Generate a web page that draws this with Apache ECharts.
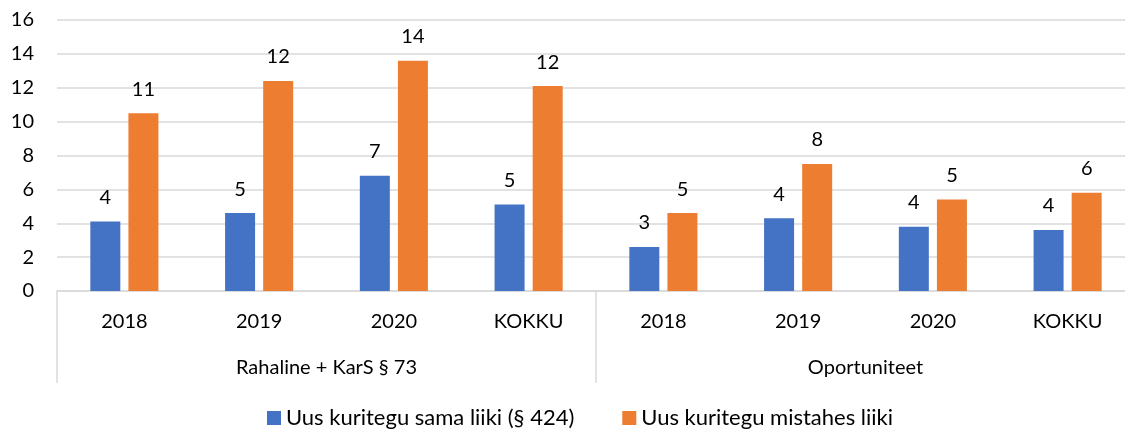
<!DOCTYPE html>
<html>
<head>
<meta charset="utf-8">
<script src="https://cdn.jsdelivr.net/npm/echarts@6/dist/echarts.min.js"></script>
<style>
  html, body { margin: 0; padding: 0; background: #fff; overflow: hidden; }
  #chart { width: 1125px; height: 430px; }
</style>
</head>
<body>
<div id="chart"></div>
<script>
// andmed
const years = ['2018', '2019', '2020', 'KOKKU', '2018', '2019', '2020', 'KOKKU'];
const groups = ['Rahaline + KarS § 73', 'Oportuniteet'];
const samaLiiki = [4.1, 4.6, 6.8, 5.1, 2.6, 4.3, 3.8, 3.6];
const mistahesLiiki = [10.5, 12.4, 13.6, 12.1, 4.6, 7.5, 5.4, 5.8];
const yTicks = [0, 2, 4, 6, 8, 10, 12, 14, 16];

const font = 'Lato, "Open Sans", sans-serif';
const chart = echarts.init(document.getElementById('chart'));

const labelStyle = {
  show: true,
  position: 'top',
  distance: 14,
  fontSize: 20,
  fontFamily: font,
  color: '#000',
  formatter: p => Math.round(p.value)
};

chart.setOption({
  animation: false,
  // plot runs a bit past the right edge, like the cropped original
  grid: { left: 57, width: 1078, top: 20, bottom: 139, containLabel: false, outerBoundsMode: 'none' },
  legend: {
    top: 402,
    left: 262,
    itemWidth: 14,
    itemHeight: 14,
    itemGap: 48,
    icon: 'rect',
    textStyle: { fontSize: 22, fontFamily: font, color: '#000' },
    data: ['Uus kuritegu sama liiki (§ 424)', 'Uus kuritegu mistahes liiki']
  },
  xAxis: [
    {
      type: 'category',
      data: years,
      position: 'bottom',
      axisLine: { lineStyle: { color: '#d9d9d9', width: 1.5 } },
      axisTick: { show: false },
      axisLabel: { fontSize: 20, fontFamily: font, color: '#000', margin: 21, interval: 0 }
    },
    {
      type: 'category',
      data: groups,
      position: 'bottom',
      axisLine: { show: false },
      axisTick: { show: true, length: 92, interval: 0, lineStyle: { color: '#d9d9d9', width: 1.5 } },
      axisLabel: { fontSize: 20, fontFamily: font, color: '#000', margin: 67, interval: 0 }
    }
  ],
  yAxis: {
    type: 'value',
    min: yTicks[0],
    max: yTicks[yTicks.length - 1],
    interval: 2,
    axisLine: { show: false },
    axisTick: { show: false },
    splitLine: { lineStyle: { color: '#d9d9d9', width: 1.5 } },
    axisLabel: { fontSize: 20, fontFamily: font, color: '#000', margin: 23 }
  },
  series: [
    {
      name: 'Uus kuritegu sama liiki (§ 424)',
      type: 'bar',
      xAxisIndex: 0,
      barWidth: 30,
      barGap: '27%',
      itemStyle: { color: '#4472C4' },
      label: labelStyle,
      data: samaLiiki
    },
    {
      name: 'Uus kuritegu mistahes liiki',
      type: 'bar',
      xAxisIndex: 0,
      barWidth: 30,
      barGap: '27%',
      itemStyle: { color: '#ED7D31' },
      label: labelStyle,
      data: mistahesLiiki
    }
  ]
});
</script>
</body>
</html>
